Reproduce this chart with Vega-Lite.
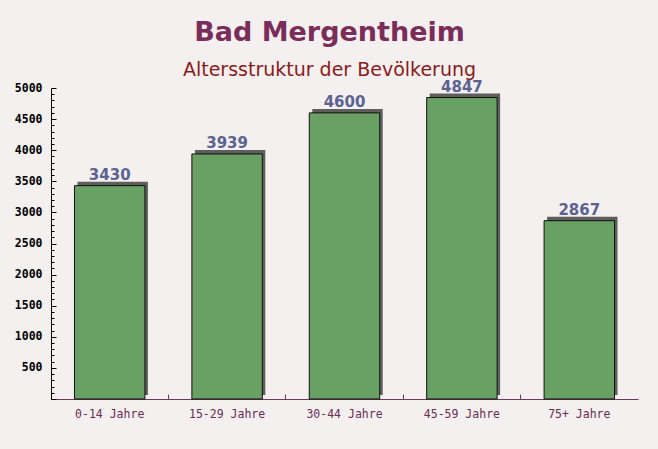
{
  "$schema": "https://vega.github.io/schema/vega-lite/v6.json",
  "width": 587,
  "height": 311,
  "autosize": {"type": "none"},
  "padding": {"left": 51, "top": 88, "right": 20, "bottom": 50},
  "background": "#f4f0f0",
  "config": {"view": {"stroke": null}},
  "title": {
    "text": "Bad Mergentheim",
    "subtitle": "Altersstruktur der Bevölkerung",
    "anchor": "middle",
    "frame": "group",
    "dx": -15,
    "offset": -1,
    "font": "DejaVu Sans",
    "fontSize": 27,
    "fontWeight": "bold",
    "color": "#7b2d5a",
    "subtitleFont": "DejaVu Sans",
    "subtitleFontSize": 19,
    "subtitleColor": "#8b1a1a",
    "subtitlePadding": 14
  },
  "data": {
    "values": [
      {"age": "0-14 Jahre", "count": 3430},
      {"age": "15-29 Jahre", "count": 3939},
      {"age": "30-44 Jahre", "count": 4600},
      {"age": "45-59 Jahre", "count": 4847},
      {"age": "75+ Jahre", "count": 2867}
    ]
  },
  "encoding": {
    "x": {
      "field": "age",
      "type": "nominal",
      "sort": null,
      "title": null,
      "scale": {"paddingInner": 0.4, "paddingOuter": 0.2},
      "axis": {
        "labelAngle": 0,
        "labelFont": "DejaVu Sans Mono",
        "labelFontSize": 11.5,
        "labelColor": "#6b2d55",
        "domainColor": "#6b3a5a",
        "tickColor": "#6b3a5a",
        "tickSize": -5,
        "bandPosition": -0.3333,
        "labelPadding": 14
      }
    },
    "y": {
      "field": "count",
      "type": "quantitative",
      "title": null,
      "scale": {"domain": [0, 5000], "nice": false},
      "axis": {
        "values": [0,100,200,300,400,500,600,700,800,900,1000,1100,1200,1300,1400,1500,1600,1700,1800,1900,2000,2100,2200,2300,2400,2500,2600,2700,2800,2900,3000,3100,3200,3300,3400,3500,3600,3700,3800,3900,4000,4100,4200,4300,4400,4500,4600,4700,4800,4900,5000],
        "labelExpr": "datum.value > 0 && datum.value % 500 === 0 ? datum.value : ''",
        "labelFont": "DejaVu Sans Mono",
        "labelFontSize": 11.5,
        "labelFontWeight": "bold",
        "labelColor": "#000000",
        "domainColor": "#000000",
        "tickColor": "#000000",
        "tickSize": {"condition": {"test": "datum.value % 500 === 0", "value": -5}, "value": -3},
        "labelPadding": 14,
        "grid": false
      }
    }
  },
  "layer": [
    {"mark": {"type": "bar", "color": "#5e5e5e", "xOffset": 3, "yOffset": -4}},
    {"mark": {"type": "bar", "color": "#69a063", "stroke": "#111111", "strokeWidth": 1}},
    {
      "mark": {"type": "text", "baseline": "alphabetic", "dy": -6, "font": "DejaVu Sans", "fontSize": 15, "fontWeight": "bold", "color": "#5a6390"},
      "encoding": {"text": {"field": "count", "type": "quantitative"}}
    }
  ]
}
